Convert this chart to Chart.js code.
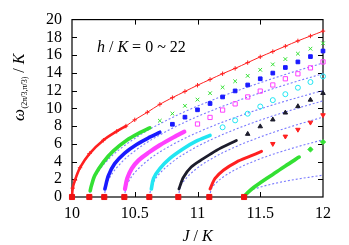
<!DOCTYPE html>
<html>
<head>
<meta charset="utf-8">
<script src="https://cdn.jsdelivr.net/npm/chart.js@4.4.0/dist/chart.umd.min.js"></script>
<style>
html, body { margin: 0; padding: 0; background: #fff; }
</style>
</head>
<body>
<canvas id="myChart" width="349" height="245"></canvas>
<script>
const xTicks = [10, 10.5, 11, 11.5, 12];
const yTicks = [0, 2, 4, 6, 8, 10, 12, 14, 16, 18, 20];
const onsets = [10, 10.138, 10.257, 10.417, 10.616, 10.847, 11.094, 11.371];

// dense part of each branch (x, y)
const denseRed = [[10, 0], [10.006, 1.0], [10.024, 1.9], [10.064, 3.3], [10.14, 4.9], [10.25, 6.4], [10.356, 7.4], [10.43, 8.0]];
const denseGreen = [[10.145, 0.7], [10.155, 1.3], [10.183, 2.46], [10.25, 3.94], [10.33, 5.2], [10.436, 6.4], [10.54, 7.25], [10.62, 7.8]];
const denseBlue = [[10.262, 0.9], [10.29, 2.4], [10.34, 3.76], [10.42, 4.95], [10.515, 5.92], [10.62, 6.74], [10.70, 7.3]];
const denseMagenta = [[10.422, 0.9], [10.44, 2.09], [10.476, 3.2], [10.53, 4.13], [10.61, 5.0], [10.70, 5.85], [10.81, 6.74], [10.895, 7.37]];
const denseCyan = [[10.632, 0.9], [10.65, 2.1], [10.70, 3.2], [10.78, 4.35], [10.887, 5.44], [10.99, 6.29], [11.10, 6.95]];
const denseBlack = [[10.852, 0.9], [10.887, 2.2], [10.95, 3.39], [11.046, 4.32], [11.15, 5.25], [11.31, 6.37]];
const denseRed2 = [[11.1, 0.9], [11.14, 2.09], [11.206, 3.02], [11.31, 3.94], [11.42, 4.6], [11.51, 5.14]];
const denseGreen2 = [[11.376, 0.15], [11.40, 0.5], [11.45, 1.1], [11.5, 1.6], [11.6, 2.55], [11.7, 3.5], [11.81, 4.5]];

// sparse points
const sparseRed = [[10.5, 8.7], [10.6, 9.55], [10.7, 10.45], [10.8, 11.2], [10.9, 11.9], [11.0, 12.6], [11.1, 13.25], [11.2, 13.9], [11.3, 14.5], [11.4, 15.15], [11.5, 15.8], [11.6, 16.4], [11.7, 17.0], [11.8, 17.6], [11.9, 18.15], [12.0, 18.7]];
const sparseGreen = [[10.7, 8.6], [10.8, 9.4], [10.9, 10.28], [11.0, 10.98], [11.1, 11.7], [11.2, 12.37], [11.3, 13.05], [11.4, 13.66], [11.5, 14.34], [11.6, 14.95], [11.7, 15.55], [11.8, 16.16], [11.9, 16.72], [12.0, 17.33]];
const sparseBlue = [[10.8, 8.2], [10.9, 9.0], [11.0, 9.83], [11.1, 10.54], [11.2, 11.28], [11.3, 11.96], [11.4, 12.63], [11.5, 13.33], [11.6, 13.97], [11.7, 14.6], [11.8, 15.23], [11.9, 15.83], [12.0, 16.46]];
const sparseMagenta = [[11.0, 8.23], [11.1, 8.97], [11.2, 9.8], [11.3, 10.5], [11.4, 11.28], [11.5, 11.94], [11.6, 12.63], [11.7, 13.33], [11.8, 13.89], [11.9, 14.56], [12.0, 15.23]];
const sparseCyan = [[11.2, 7.86], [11.3, 8.64], [11.4, 9.39], [11.5, 10.2], [11.6, 10.92], [11.7, 11.59], [11.8, 12.32], [11.9, 12.96], [12.0, 13.6]];
const sparseBlack = [[11.4, 7.1], [11.5, 7.95], [11.6, 8.72], [11.7, 9.5], [11.8, 10.22], [11.9, 10.95], [12.0, 11.7]];
const sparseRed2 = [[11.6, 6.0], [11.7, 6.83], [11.8, 7.6], [11.9, 8.4], [12.0, 9.24]];
const sparseGreen2 = [[11.9, 5.36], [12.0, 6.2]];

// dashed fit curves
const fitGreen = [[10.138, 0], [10.15, 1.2], [10.2, 2.64], [10.3, 4.39], [10.4, 5.6], [10.5, 6.6], [10.6, 7.5], [10.7, 8.25], [10.8, 8.97], [10.9, 9.63], [11.0, 10.25], [11.2, 11.38], [11.4, 12.4], [11.6, 13.36], [11.8, 14.26], [12, 15.1]];
const fitBlue = [[10.257, 0], [10.27, 1.2], [10.3, 2.18], [10.4, 3.98], [10.5, 5.19], [10.6, 6.17], [10.7, 7.0], [10.8, 7.76], [10.9, 8.44], [11.0, 9.08], [11.2, 10.22], [11.4, 11.26], [11.6, 12.2], [11.8, 13.08], [12, 13.9]];
const fitMagenta = [[10.417, 0], [10.43, 1.09], [10.45, 1.73], [10.5, 2.75], [10.6, 4.08], [10.7, 5.08], [10.8, 5.9], [10.9, 6.63], [11.0, 7.28], [11.2, 8.44], [11.4, 9.46], [11.6, 10.38], [11.8, 11.22], [12, 12.0]];
const fitCyan = [[10.616, 0], [10.63, 1.09], [10.65, 1.7], [10.7, 2.67], [10.8, 3.95], [10.9, 4.91], [11.0, 5.71], [11.1, 6.41], [11.2, 7.04], [11.4, 8.16], [11.6, 9.14], [11.8, 10.02], [12, 10.84]];
const fitBlack = [[10.847, 0], [10.86, 0.96], [10.9, 1.93], [11.0, 3.28], [11.1, 4.21], [11.2, 4.98], [11.3, 5.64], [11.4, 6.23], [11.6, 7.27], [11.8, 8.18], [12, 9.0]];
const fitRed2 = [[11.094, 0], [11.11, 0.86], [11.15, 1.6], [11.2, 2.2], [11.3, 3.07], [11.4, 3.74], [11.5, 4.31], [11.6, 4.81], [11.7, 5.26], [11.8, 5.68], [11.9, 6.07], [12, 6.45]];
const fitGreen2 = [[11.371, 0], [11.4, 0.53], [11.5, 1.11], [11.6, 1.48], [11.7, 1.78], [11.8, 2.03], [11.9, 2.25], [12, 2.46]];

const RED = '#ff2020', GREEN = '#33e033', BLUE = '#1a1aff', MAG = '#ff40ff', CYAN = '#22e6f2', BLACK = '#1c1c2c', DASH = '#7a7aff';
const serif = '"Liberation Serif", "Times New Roman", serif';

function pts(a) { return a.map(p => ({ x: p[0], y: p[1] })); }

function denseSet(a, color, w) {
    return { data: pts(a), showLine: true, borderColor: color, borderWidth: w, pointRadius: 0,
             tension: 0.3, borderCapStyle: 'round', order: 1, clip: false };
}

function sparseSet(a, color, style, r, filled, rot) {
    return { data: pts(a), showLine: false, pointStyle: style, pointRadius: r, pointRotation: rot || 0,
             borderColor: color, backgroundColor: filled ? color : 'rgba(0,0,0,0)', pointBorderWidth: 1,
             order: 1, clip: false };
}

function fitSet(a) {
    return { data: pts(a), showLine: true, borderColor: DASH, borderWidth: 1.1, borderDash: [2, 2],
             pointRadius: 0, cubicInterpolationMode: 'monotone', order: 2, clip: false };
}

const decor = {
    id: 'decor',
    beforeDatasetsDraw(chart) {
        const ctx = chart.ctx, a = chart.chartArea;
        const xs = chart.scales.x, ys = chart.scales.y;
        ctx.save();
        ctx.strokeStyle = '#000';
        ctx.lineWidth = 1.2;
        ctx.strokeRect(a.left, a.top, a.right - a.left, a.bottom - a.top);
        ctx.lineWidth = 1;
        ctx.beginPath();
        yTicks.slice(1, -1).forEach(v => {
            const p = Math.round(ys.getPixelForValue(v)) + 0.5;
            ctx.moveTo(a.left, p); ctx.lineTo(a.left + 5, p);
            ctx.moveTo(a.right, p); ctx.lineTo(a.right - 5, p);
        });
        xTicks.slice(1, -1).forEach(v => {
            const p = Math.round(xs.getPixelForValue(v)) + 0.5;
            ctx.moveTo(p, a.bottom); ctx.lineTo(p, a.bottom - 5);
            ctx.moveTo(p, a.top); ctx.lineTo(p, a.top + 5);
        });
        ctx.stroke();
        ctx.restore();
    },
    afterDraw(chart) {
        const ctx = chart.ctx;
        ctx.save();
        ctx.fillStyle = '#000';
        ctx.textBaseline = 'alphabetic';

        // annotation
        let x = 97;
        const parts = [['h', true], [' / ', false], ['K', true], [' = 0 ~ 22', false]];
        parts.forEach(([t, it]) => {
            ctx.font = (it ? 'italic ' : '') + '16px ' + serif;
            ctx.fillText(t, x, 52);
            x += ctx.measureText(t).width;
        });

        // x title
        const xp = [['J', true], [' / ', false], ['K', true]];
        let tw = 0;
        xp.forEach(([t, it]) => { ctx.font = (it ? 'italic ' : '') + '16px ' + serif; tw += ctx.measureText(t).width; });
        x = 197.5 - tw / 2;
        xp.forEach(([t, it]) => {
            ctx.font = (it ? 'italic ' : '') + '16px ' + serif;
            ctx.fillText(t, x, 241);
            x += ctx.measureText(t).width;
        });

        // y title
        ctx.translate(24, 121);
        ctx.rotate(-Math.PI / 2);
        x = 0;
        ctx.font = 'italic 17px ' + serif;
        ctx.fillText('ω', x, 0);
        x += ctx.measureText('ω').width + 0.5;
        ctx.font = '8px ' + serif;
        ctx.fillText('(2π/3,π/3)', x, 3);
        x += ctx.measureText('(2π/3,π/3)').width;
        ctx.font = '16px ' + serif;
        ctx.fillText(' / ', x, 0);
        x += ctx.measureText(' / ').width;
        ctx.font = 'italic 16px ' + serif;
        ctx.fillText('K', x, 0);
        ctx.restore();
    }
};

const ctx = document.getElementById('myChart').getContext('2d');

new Chart(ctx, {
    type: 'scatter',
    data: {
        datasets: [
            { data: onsets.map(v => ({ x: v, y: 0 })), pointStyle: 'rect', pointRadius: 3.6,
              backgroundColor: '#ee1010', borderColor: '#ee1010', order: 0, clip: false },
            denseSet(denseRed, RED, 2.6),
            { data: pts(denseRed.concat(sparseRed)), showLine: true, borderColor: RED, borderWidth: 1,
              pointStyle: 'cross', pointRadius: 2.2, pointBorderWidth: 1, backgroundColor: RED,
              tension: 0.3, order: 1, clip: false },
            denseSet(denseGreen, GREEN, 3.6), sparseSet(sparseGreen, GREEN, 'crossRot', 2.6, false),
            denseSet(denseBlue, BLUE, 3.6), sparseSet(sparseBlue, BLUE, 'rect', 2.6, true),
            denseSet(denseMagenta, MAG, 4.2), sparseSet(sparseMagenta, MAG, 'rect', 3, false),
            denseSet(denseCyan, CYAN, 3.6), sparseSet(sparseCyan, CYAN, 'circle', 2.5, false),
            denseSet(denseBlack, BLACK, 2.8), sparseSet(sparseBlack, BLACK, 'triangle', 2.6, true),
            denseSet(denseRed2, RED, 3), sparseSet(sparseRed2, RED, 'triangle', 2.6, true, 180),
            denseSet(denseGreen2, GREEN, 3.6), sparseSet(sparseGreen2, GREEN, 'rectRot', 2.6, true),
            fitSet(fitGreen), fitSet(fitBlue), fitSet(fitMagenta), fitSet(fitCyan),
            fitSet(fitBlack), fitSet(fitRed2), fitSet(fitGreen2)
        ]
    },
    options: {
        responsive: false,
        animation: false,
        events: [],
        layout: { padding: { top: 18, right: 26, left: 0, bottom: 0 } },
        plugins: { legend: { display: false }, tooltip: { enabled: false } },
        scales: {
            x: {
                type: 'linear', min: 10, max: 12,
                afterBuildTicks: s => { s.ticks = xTicks.map(v => ({ value: v })); },
                afterFit: s => { s.height = 48; },
                grid: { display: false, drawTicks: false },
                border: { display: false },
                ticks: { color: '#000', padding: 7, maxRotation: 0, autoSkip: false,
                         font: { family: serif, size: 16 }, callback: v => String(v) }
            },
            y: {
                type: 'linear', min: 0, max: 20,
                afterBuildTicks: s => { s.ticks = yTicks.map(v => ({ value: v })); },
                afterFit: s => { s.width = 72; },
                grid: { display: false, drawTicks: false },
                border: { display: false },
                ticks: { color: '#000', padding: 10, autoSkip: false,
                         font: { family: serif, size: 16 }, callback: v => String(v) }
            }
        }
    },
    plugins: [decor]
});
</script>
</body>
</html>
